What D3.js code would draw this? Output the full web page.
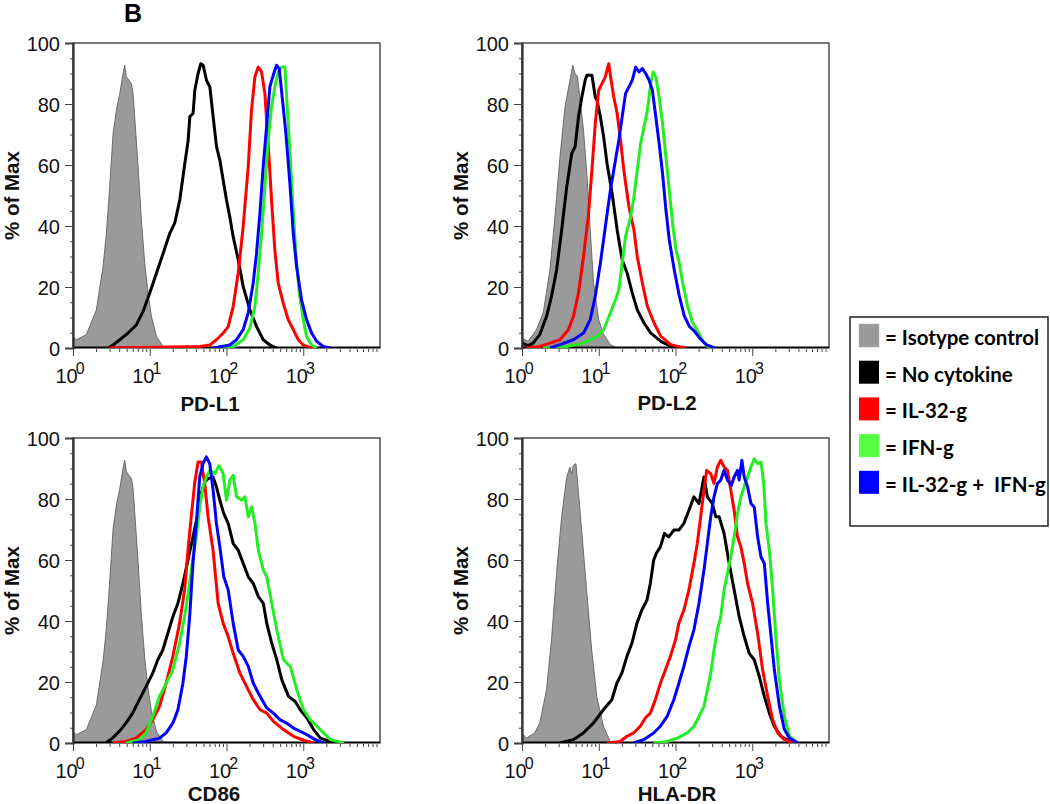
<!DOCTYPE html>
<html><head><meta charset="utf-8">
<script src="https://cdn.jsdelivr.net/npm/d3@7"></script>
<style>body{margin:0;background:#fff}svg{display:block}</style>
</head><body>
<svg id="c" width="1050" height="804"></svg>
<script>
// ---------------- DATA (x = log10 fluorescence, y = % of Max) ----------------
const markers = ["PD-L1", "PD-L2", "CD86", "HLA-DR"];
const categories = ["Isotype control", "No cytokine", "IL-32-g", "IFN-g", "IL-32-g +  IFN-g"];
const seriesColors = ["#9a9a9a", "#000000", "#ff0000", "#22ee22", "#0000ff"];
const legendColors = ["#9a9a9a", "#000000", "#ff0000", "#55ff44", "#0000ff"];
const yTicks = [0, 20, 40, 60, 80, 100];
const xTickExponents = [0, 1, 2, 3];

const isoA = [[0,3.8],[0.043,2.7],[0.174,4.4],[0.304,12.5],[0.391,26.7],[0.435,37.6],[0.478,52.9],[0.522,70.3],[0.565,78],[0.609,83.4],[0.652,90],[0.674,92.7],[0.696,88.9],[0.761,86.7],[0.783,83.4],[0.804,75.8],[0.848,59.4],[0.891,42],[0.935,27.8],[0.978,18],[1.022,10.4],[1.087,3.8],[1.174,0.5],[1.261,0]];

const pdl1_none = [[0.457,0],[0.522,1],[0.609,2.7],[0.717,4.9],[0.826,7.6],[0.913,12],[1.0,18],[1.087,24.5],[1.174,31],[1.261,37.6],[1.326,41],[1.391,48.5],[1.457,60.5],[1.5,68],[1.522,75.8],[1.565,77],[1.587,84.5],[1.63,90],[1.665,93.2],[1.696,92.7],[1.739,87.8],[1.783,85.6],[1.826,75.8],[1.87,66],[1.913,61.6],[1.957,55],[2.0,48.5],[2.043,43],[2.087,36.5],[2.152,29],[2.217,20.2],[2.304,12.5],[2.391,7.1],[2.478,2.7],[2.565,1],[2.652,0]];
const pdl1_il32 = [[0.478,0],[1.652,0.5],[1.783,1],[1.87,2.7],[1.957,4.9],[2.022,7],[2.087,13.6],[2.152,24.5],[2.217,39.8],[2.283,59.4],[2.326,78],[2.37,88.9],[2.413,92.1],[2.457,90.5],[2.5,83.4],[2.543,67],[2.587,48.5],[2.63,32],[2.674,21.3],[2.739,14.7],[2.804,9.3],[2.87,6],[2.935,2.7],[3.0,1],[3.087,0.2],[3.174,0]];
const pdl1_ifn = [[1.826,0],[2.087,0.5],[2.217,2.7],[2.304,6.5],[2.37,13.6],[2.413,24.5],[2.457,37.6],[2.5,52.9],[2.543,68.2],[2.587,79],[2.63,85.6],[2.674,90.5],[2.717,92.1],[2.761,92.1],[2.791,79],[2.826,65],[2.861,48.5],[2.904,31],[2.948,18],[3.0,9.3],[3.043,3.8],[3.109,1],[3.174,0]];
const pdl1_both = [[1.826,0],[2.043,1],[2.13,2.7],[2.217,6],[2.283,11.5],[2.348,21.3],[2.391,31],[2.435,44],[2.478,59.4],[2.522,72.5],[2.565,85.6],[2.609,89.4],[2.652,92.7],[2.687,91.6],[2.73,81.2],[2.774,70.3],[2.826,54],[2.87,37.6],[2.913,26.7],[2.978,15.8],[3.043,9.3],[3.109,4.9],[3.174,2.2],[3.261,0.5],[3.348,0]];

const pdl2_iso = [[0,3.3],[0.079,2.2],[0.188,6],[0.276,11.5],[0.364,25.6],[0.429,43],[0.495,62.7],[0.56,79],[0.604,85],[0.661,92.7],[0.692,90],[0.723,89],[0.758,81],[0.802,71.4],[0.845,57],[0.889,38.7],[0.933,21.3],[0.999,9.3],[1.065,4.4],[1.152,1.1],[1.24,0]];
const pdl2_none = [[0,1.6],[0.079,0.8],[0.145,1.6],[0.232,4.4],[0.32,10.4],[0.385,17],[0.451,25.6],[0.517,38.7],[0.583,52.9],[0.648,63.8],[0.692,66],[0.736,75.8],[0.78,82.3],[0.823,87.8],[0.845,89.4],[0.911,89.4],[0.955,82.3],[0.977,81.2],[1.021,75.8],[1.064,69.2],[1.108,60.5],[1.174,50.7],[1.24,38.7],[1.305,28.9],[1.371,24.5],[1.437,18],[1.502,12.5],[1.59,8.2],[1.678,4.9],[1.809,2.2],[1.941,0.5],[2.028,0]];
const pdl2_il32 = [[0.057,0],[0.232,0.5],[0.364,1.6],[0.495,2.7],[0.604,6],[0.67,10.4],[0.736,18],[0.802,30],[0.867,44],[0.911,58.3],[0.955,73.6],[0.999,84.5],[1.042,86.7],[1.086,88.9],[1.13,93.2],[1.161,87.8],[1.196,82.3],[1.24,76.9],[1.283,68.2],[1.327,58.3],[1.393,46.3],[1.459,38.7],[1.502,30],[1.568,21.3],[1.634,13.6],[1.721,8.2],[1.809,3.8],[1.94,1.1],[2.072,0.3],[2.137,0]];
const pdl2_ifn = [[0.276,0],[0.583,0.5],[0.802,1.6],[0.977,3.8],[1.064,6],[1.152,11.5],[1.218,15.8],[1.262,19.1],[1.305,27.8],[1.349,36.5],[1.415,43],[1.459,49.6],[1.502,58.3],[1.546,67],[1.59,72.5],[1.634,78],[1.678,86.7],[1.708,90.5],[1.743,88.9],[1.787,82.3],[1.831,73.6],[1.875,62.7],[1.919,51.8],[1.962,40.9],[2.006,32.2],[2.05,27.8],[2.094,21.3],[2.159,13.6],[2.225,8.2],[2.291,5.5],[2.357,2.2],[2.422,0.5],[2.488,0]];
const pdl2_both = [[0.364,0],[0.495,1.1],[0.67,2.7],[0.802,4.9],[0.889,9.3],[0.955,17],[1.021,27.8],[1.086,39.8],[1.152,51.8],[1.218,61.6],[1.262,68.2],[1.305,75.8],[1.349,83.4],[1.393,85.6],[1.437,87.8],[1.481,92.1],[1.524,90.5],[1.568,91.6],[1.612,90],[1.656,87.8],[1.699,84.5],[1.743,75.8],[1.787,67],[1.831,57.3],[1.875,45.3],[1.919,35.4],[1.984,25.6],[2.05,17],[2.116,10.4],[2.181,7.1],[2.247,5.5],[2.313,3.3],[2.4,1.1],[2.51,0]];

const cd86_none = [[0.428,0],[0.515,1.6],[0.603,3.8],[0.69,6.5],[0.777,9.8],[0.865,14.2],[0.952,18.5],[1.039,22.9],[1.105,27.3],[1.17,30.5],[1.236,36],[1.301,41.4],[1.367,45.8],[1.432,52.3],[1.498,60],[1.563,67.6],[1.629,75.2],[1.672,81.8],[1.716,85.6],[1.76,86.7],[1.825,87.2],[1.869,84],[1.913,79.6],[1.965,75.2],[2.022,72],[2.087,65.4],[2.153,63.2],[2.218,58.9],[2.284,54.5],[2.349,52.3],[2.415,48],[2.48,45.8],[2.524,39.3],[2.59,32.7],[2.655,27.3],[2.721,20.7],[2.808,15.3],[2.895,13.6],[2.961,10.9],[3.048,8.2],[3.135,4.4],[3.223,1.6],[3.354,0.5],[3.441,0]];
const cd86_il32 = [[0.515,0],[0.69,0.5],[0.821,1.6],[0.952,4.4],[1.039,7.6],[1.127,12],[1.214,19.6],[1.301,28.4],[1.389,39.3],[1.454,50.2],[1.498,63.2],[1.541,74.2],[1.585,85.1],[1.629,92.1],[1.672,92.1],[1.716,85.1],[1.76,74.2],[1.825,63.2],[1.891,45.8],[1.956,39.3],[2.022,34.9],[2.087,29.4],[2.175,22.9],[2.262,18.5],[2.349,14.2],[2.437,10.9],[2.524,9.8],[2.611,7.1],[2.742,4.4],[2.873,2.2],[3.004,0.9],[3.135,0]];
const cd86_ifn = [[0.69,0],[0.865,1.1],[0.952,3.3],[1.039,8.7],[1.127,15.3],[1.214,19.6],[1.301,24],[1.389,32.7],[1.454,41.4],[1.52,52.3],[1.563,61],[1.607,67.6],[1.651,77.4],[1.694,84],[1.738,87.2],[1.782,89.4],[1.847,88.3],[1.904,91],[1.956,88.3],[2.0,79.6],[2.044,86.1],[2.087,87.8],[2.131,80.7],[2.197,79.6],[2.24,80.7],[2.284,74.2],[2.328,77.4],[2.371,72],[2.415,63.2],[2.48,56.7],[2.524,54.5],[2.59,45.8],[2.655,37.1],[2.742,27.3],[2.83,25.1],[2.917,17.4],[3.004,10.9],[3.092,7.6],[3.179,5.5],[3.266,3.3],[3.354,1.1],[3.528,0]];
const cd86_both = [[0.777,0],[0.952,0.5],[1.127,1.6],[1.214,3.3],[1.301,6.5],[1.367,10.9],[1.432,19.6],[1.476,28.4],[1.52,41.4],[1.563,58.9],[1.607,72],[1.651,87.2],[1.694,91.6],[1.738,93.8],[1.782,91.6],[1.825,82.9],[1.869,72],[1.913,64.3],[1.965,54.5],[2.022,50.2],[2.087,39.3],[2.153,30.5],[2.218,28.4],[2.284,25.1],[2.349,19.6],[2.437,15.3],[2.524,11.5],[2.611,9.8],[2.699,7.6],[2.786,6.5],[2.873,4.9],[2.961,3.8],[3.048,2.7],[3.157,1.1],[3.266,0]];

const hla_iso = [[0,3.3],[0.057,1.6],[0.166,3.3],[0.231,6.5],[0.319,17.4],[0.384,33.8],[0.45,55.6],[0.515,74],[0.581,87],[0.624,90.5],[0.646,88.3],[0.668,91],[0.703,91.6],[0.734,82.9],[0.777,69.8],[0.843,50],[0.908,30.5],[0.974,15.3],[1.061,5.5],[1.148,0.5],[1.2,0]];
const hla_none = [[0.493,0],[0.668,1.1],[0.799,3.3],[0.93,6.5],[1.061,10.9],[1.17,14.2],[1.236,19.6],[1.301,22.9],[1.367,28.4],[1.432,32.7],[1.498,39.3],[1.563,43.7],[1.629,46.9],[1.672,52.3],[1.716,60],[1.751,62.2],[1.803,64.3],[1.856,68.7],[1.913,67.6],[1.978,69.8],[2.044,69.8],[2.109,72],[2.175,76.3],[2.24,80.7],[2.306,78.5],[2.371,87.2],[2.415,80.7],[2.48,78.5],[2.524,74.2],[2.568,74.2],[2.633,68.7],[2.699,58.9],[2.764,50.2],[2.83,41.4],[2.895,34.9],[2.961,29.4],[3.026,27.3],[3.092,21.8],[3.157,15.3],[3.223,9.8],[3.288,5.5],[3.376,2.2],[3.507,0.2],[3.594,0]];
const hla_il32 = [[1.105,0],[1.279,0.5],[1.367,2.2],[1.454,3.3],[1.541,5.5],[1.607,8.2],[1.672,9.8],[1.738,14.2],[1.803,19.6],[1.869,24],[1.934,28.4],[2.0,33.8],[2.044,39.3],[2.109,43.6],[2.175,50.2],[2.24,58.9],[2.284,65.4],[2.328,74.2],[2.371,82.9],[2.406,89.4],[2.459,88.3],[2.502,85.1],[2.546,90.5],[2.59,92.7],[2.633,90.5],[2.677,89.4],[2.721,82.9],[2.764,76.3],[2.808,67.6],[2.852,64.3],[2.895,58.9],[2.939,52.3],[3.004,45.8],[3.07,36],[3.135,24],[3.201,15.3],[3.266,7.6],[3.332,3.3],[3.419,1.1],[3.55,0]];
const hla_ifn = [[1.716,0],[1.891,0.5],[2.022,1.6],[2.153,3.3],[2.24,5.5],[2.306,8.7],[2.371,12],[2.415,17.4],[2.459,22.9],[2.502,30.5],[2.546,37.1],[2.59,41.4],[2.633,50.2],[2.677,55.6],[2.721,61],[2.764,67.6],[2.808,75.2],[2.852,80.7],[2.895,84],[2.939,87.2],[2.983,90.5],[3.026,93.2],[3.07,91.6],[3.114,92.1],[3.149,85.1],[3.179,72],[3.223,63.2],[3.266,50.2],[3.31,33.8],[3.354,20.7],[3.419,8.7],[3.485,2.2],[3.594,0]];
const hla_both = [[1.454,0],[1.585,1.1],[1.716,3.3],[1.803,5.5],[1.891,8.7],[1.978,14.2],[2.044,19.6],[2.109,25.1],[2.175,31.6],[2.24,37.1],[2.306,45.8],[2.371,56.7],[2.415,65.4],[2.459,74.2],[2.502,80.7],[2.546,85.1],[2.59,86.2],[2.633,89.4],[2.677,86.2],[2.729,84.5],[2.764,87.2],[2.808,89.4],[2.83,86.2],[2.865,92.7],[2.895,87.2],[2.939,84],[2.983,78.5],[3.026,77.4],[3.07,67.6],[3.114,61],[3.157,58.9],[3.201,45.8],[3.245,34.9],[3.288,24],[3.354,12],[3.419,4.4],[3.485,1.6],[3.594,0]];

// series per panel in legend order: isotype, none, IL-32-g, IFN-g, both
const panelSeries = [
  [isoA, pdl1_none, pdl1_il32, pdl1_ifn, pdl1_both],
  [pdl2_iso, pdl2_none, pdl2_il32, pdl2_ifn, pdl2_both],
  [isoA, cd86_none, cd86_il32, cd86_ifn, cd86_both],
  [hla_iso, hla_none, hla_il32, hla_ifn, hla_both]
];

// ---------------- LAYOUT ----------------
const layout = [
  {left: 73, top: 43, labelDx: 137, labelDy: 368},
  {left: 522, top: 43, labelDx: 145, labelDy: 367},
  {left: 73, top: 438, labelDx: 141, labelDy: 363},
  {left: 522, top: 438, labelDx: 155, labelDy: 363}
];
const PW = 307, PH = 305;
const tickFont = "'Liberation Sans', Arial, sans-serif";

const svg = d3.select("#c");

svg.append("text").attr("x", 124).attr("y", 22)
  .attr("font-family", tickFont).attr("font-weight", "bold").attr("font-size", 25)
  .text("B");

const x = d3.scaleLog().domain([1, 10000]).range([0, PW]);
const y = d3.scaleLinear().domain([0, 100]).range([PH, 0]);

markers.forEach((m, i) => {
  const L = layout[i];
  const g = svg.append("g").attr("transform", `translate(${L.left},${L.top})`);
  const defsId = "clip" + i;
  g.append("clipPath").attr("id", defsId).append("rect")
    .attr("x", 0).attr("y", -5).attr("width", PW).attr("height", PH + 5);

  // frame
  g.append("rect").attr("x", 0).attr("y", 0).attr("width", PW).attr("height", PH)
    .attr("fill", "none").attr("stroke", "#333").attr("stroke-width", 1.3);

  const plot = g.append("g").attr("clip-path", `url(#${defsId})`);
  const sers = panelSeries[i];

  // isotype filled
  plot.append("path").datum(sers[0])
    .attr("d", d3.area().x(d => x(Math.pow(10, d[0]))).y0(PH).y1(d => y(d[1])))
    .attr("fill", seriesColors[0]).attr("stroke", "#555").attr("stroke-width", 0.8);

  // baseline (curves at zero)
  plot.append("line").attr("x1", 0).attr("x2", PW).attr("y1", PH).attr("y2", PH)
    .attr("stroke", "#000").attr("stroke-width", 3.2);

  const line = d3.line().x(d => x(Math.pow(10, d[0]))).y(d => y(d[1]));
  [1, 2, 3, 4].forEach(k => {
    plot.append("path").datum(sers[k]).attr("d", line)
      .attr("fill", "none").attr("stroke", seriesColors[k])
      .attr("stroke-width", 3).attr("stroke-linejoin", "round");
  });

  // y axis
  const yMinor = d3.axisLeft(y).tickValues(d3.range(0, 101, 5)).tickSize(3).tickFormat("");
  const ym = g.append("g").call(yMinor);
  ym.select(".domain").remove();
  ym.selectAll("line").attr("stroke", "#444");
  const yMajor = d3.axisLeft(y).tickValues(yTicks).tickSize(8).tickPadding(5);
  const yg = g.append("g").call(yMajor);
  yg.select(".domain").attr("stroke", "#333").attr("stroke-width", 2.2);
  yg.selectAll("line").attr("stroke", "#444");
  yg.selectAll("text").attr("font-family", tickFont).attr("font-size", 20).attr("fill", "#111").attr("dy", "0.38em");

  // x axis
  const minor = [];
  for (let e = 0; e < 4; e++) for (let k = 2; k <= 9; k++) minor.push(k * Math.pow(10, e));
  const xMinor = d3.axisBottom(x).tickValues(minor).tickSize(3).tickFormat("");
  const xm = g.append("g").attr("transform", `translate(0,${PH + 1})`).call(xMinor);
  xm.select(".domain").remove();
  xm.selectAll("line").attr("stroke", "#444");
  const xMajor = d3.axisBottom(x).tickValues(xTickExponents.map(e => Math.pow(10, e))).tickSize(7).tickFormat("");
  const xg = g.append("g").attr("transform", `translate(0,${PH + 1})`).call(xMajor);
  xg.select(".domain").remove();
  xg.selectAll("line").attr("stroke", "#444");

  xTickExponents.forEach(e => {
    const t = g.append("text").attr("x", x(Math.pow(10, e)) - 3).attr("y", PH + 35)
      .attr("text-anchor", "middle").attr("font-family", tickFont).attr("fill", "#111");
    t.append("tspan").attr("font-size", 20).text("10");
    t.append("tspan").attr("font-size", 16).attr("dx", -2).attr("dy", -9).text(String(e));
  });

  // axis titles
  g.append("text").attr("x", L.labelDx).attr("y", L.labelDy)
    .attr("text-anchor", "middle").attr("font-family", tickFont)
    .attr("font-weight", "bold").attr("font-size", 20.5).attr("fill", "#111").text(m);
  g.append("text").attr("transform", `translate(-54,${PH / 2}) rotate(-90)`)
    .attr("text-anchor", "middle").attr("font-family", tickFont)
    .attr("font-weight", "bold").attr("font-size", 20.5).attr("fill", "#111").text("% of Max");
});

// legend
const lg = svg.append("g");
lg.append("rect").attr("x", 850).attr("y", 317).attr("width", 198).attr("height", 209)
  .attr("fill", "#fff").attr("stroke", "#222").attr("stroke-width", 1.5);
categories.forEach((c, i) => {
  const yy = 324 + i * 36.7;
  lg.append("rect").attr("x", 859).attr("y", yy).attr("width", 20).attr("height", 23)
    .attr("fill", legendColors[i]).attr("stroke", i === 0 ? "#aaa" : "none").attr("stroke-width", 0.5);
  lg.append("text").attr("x", 885).attr("y", yy + 21)
    .attr("font-family", "Lato, 'Open Sans', sans-serif").attr("font-weight", "bold")
    .attr("font-size", 20.5).attr("fill", "#000")
    .style("white-space", "pre").text("= " + c);
});
</script>
</body></html>
